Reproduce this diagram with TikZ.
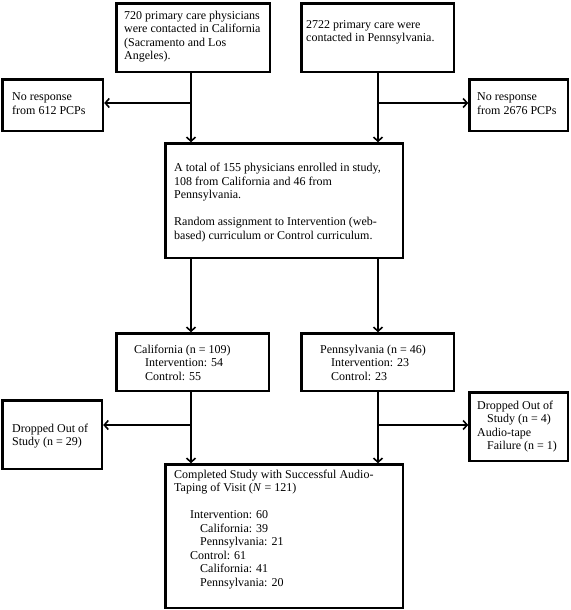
\documentclass[tikz,border=0pt]{standalone}
\usepackage{fontspec}
\setmainfont{Liberation Serif}
\usetikzlibrary{arrows.meta}
\begin{document}
\begin{tikzpicture}[x=1pt,y=-1pt,
  box/.style={draw, line width=2.4pt, inner sep=0pt, anchor=north west},
  txt/.style={anchor=north west, inner sep=0pt, align=left, font=\fontsize{12}{13.5}\selectfont},
  conn/.style={line width=1.6pt},
  arr/.style={conn, -{Straight Barb[length=4pt,width=9pt]}}]
\useasboundingbox (0,0) rectangle (570,610);

% boxes
\node[box, minimum width=153.6pt, minimum height=68.6pt] (b1) at (115.2,2.2) {};
\node[box, minimum width=152.6pt, minimum height=68.6pt] (b2) at (300.2,2.2) {};
\node[box, minimum width=100.6pt, minimum height=51.6pt] (nr1) at (1.2,78.2) {};
\node[box, minimum width=98.6pt, minimum height=51.6pt] (nr2) at (468.2,78.2) {};
\node[box, minimum width=237.6pt, minimum height=114.6pt] (b3) at (164.2,142.2) {};
\node[box, minimum width=152.6pt, minimum height=57.6pt] (ca) at (115.2,332.2) {};
\node[box, minimum width=152.6pt, minimum height=57.6pt] (pa) at (300.2,332.2) {};
\node[box, minimum width=99.6pt, minimum height=68.6pt] (dl) at (1.2,399.2) {};
\node[box, minimum width=98.6pt, minimum height=68.6pt] (dr) at (468.2,391.2) {};
\node[box, minimum width=237.6pt, minimum height=143.6pt] (done) at (164.2,463.2) {};

% texts
\node[txt] (t1) at (124,10.7) {720 primary care physicians\\were contacted in California\\(Sacramento and Los\\Angeles).};
\node[txt] (t2) at (306,20.2) {2722 primary care were\\contacted in Pennsylvania.};
\node[txt] (tnr1) at (12,92.7) {No response\\from 612 PCPs};
\node[txt] (tnr2) at (477,92.7) {No response\\from 2676 PCPs};
\node[txt] (t3) at (174,163.2) {A total of 155 physicians enrolled in study,\\108 from California and 46 from\\Pennsylvania.\\[13.5pt]Random assignment to Intervention (web-\\based) curriculum or Control curriculum.};
\node[txt] (tca) at (134,344.7) {California (n = 109)\\\hspace*{11pt}Intervention: 54\\\hspace*{11pt}Control: 55};
\node[txt] (tpa) at (320,344.7) {Pennsylvania (n = 46)\\\hspace*{11pt}Intervention: 23\\\hspace*{11pt}Control: 23};
\node[txt] (tdl) at (12,423.7) {Dropped Out of\\Study (n = 29)};
\node[txt] (tdr) at (477,400.7) {Dropped Out of\\\hspace*{10pt}Study (n = 4)\\Audio-tape\\\hspace*{10pt}Failure (n = 1)};
\node[txt] (tdone) at (174,469.7) {Completed Study with Successful Audio-\\Taping of Visit (\textit{N} = 121)\\[13.5pt]\hspace*{16pt}Intervention: 60\\\hspace*{26pt}California: 39\\\hspace*{26pt}Pennsylvania: 21\\\hspace*{16pt}Control: 61\\\hspace*{26pt}California: 41\\\hspace*{26pt}Pennsylvania: 20};

% junctions
\coordinate (jl1) at (191,103);
\coordinate (jr1) at (378,103);
\coordinate (jl2) at (191,425);
\coordinate (jr2) at (378,425);

% connectors
\draw[arr] (jl1 |- b1.south) -- (jl1 |- b3.north);
\draw[arr] (jl1) -- (jl1 -| nr1.east);
\draw[arr] (jr1 |- b2.south) -- (jr1 |- b3.north);
\draw[arr] (jr1) -- (jr1 -| nr2.west);
\draw[arr] (jl1 |- b3.south) -- (jl1 |- ca.north);
\draw[arr] (jr1 |- b3.south) -- (jr1 |- pa.north);
\draw[arr] (jl2 |- ca.south) -- (jl2 |- done.north);
\draw[arr] (jl2) -- (jl2 -| dl.east);
\draw[arr] (jr2 |- pa.south) -- (jr2 |- done.north);
\draw[arr] (jr2) -- (jr2 -| dr.west);
\end{tikzpicture}
\end{document}
